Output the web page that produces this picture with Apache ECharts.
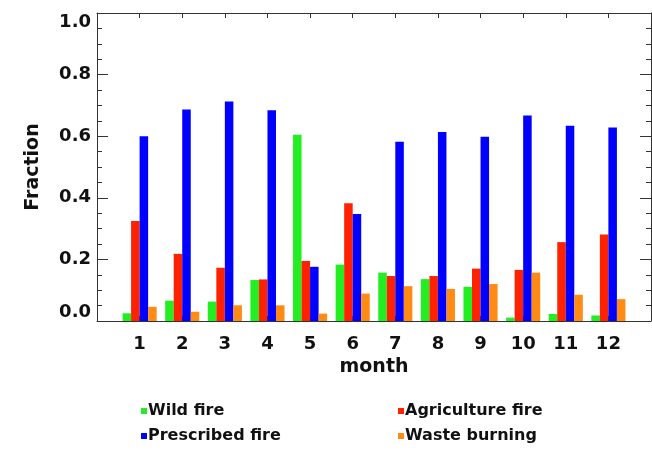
<!DOCTYPE html>
<html><head><meta charset="utf-8">
<script src="https://cdn.jsdelivr.net/npm/echarts@6/dist/echarts.min.js"></script>
<style>html,body{margin:0;padding:0;background:#fff}#c{width:652px;height:451px}</style>
</head><body><div id="c"></div>
<script>
var months = ['1','2','3','4','5','6','7','8','9','10','11','12'];
var wildFire = [0.025,0.066,0.063,0.133,0.605,0.183,0.157,0.136,0.111,0.011,0.023,0.018];
var agricultureFire = [0.325,0.218,0.173,0.135,0.195,0.382,0.146,0.146,0.170,0.166,0.256,0.281];
var prescribedFire = [0.600,0.687,0.713,0.684,0.176,0.347,0.582,0.614,0.598,0.667,0.634,0.628];
var wasteBurning = [0.046,0.030,0.051,0.051,0.024,0.089,0.113,0.104,0.120,0.157,0.085,0.071];
var yTicks = [0, 0.2, 0.4, 0.6, 0.8, 1.0];

var FONT = 'DejaVu Sans';
var axisCats = [''].concat(months).concat([' ']);
function pad(arr){ return ['-'].concat(arr).concat(['-']); }
var lineStyle = {color:'#333', width:1};
function isMonth(i){ return i > 0 && i < axisCats.length - 1; }

var chart = echarts.init(document.getElementById('c'), null, {renderer:'canvas'});
chart.setOption({
  animation:false,
  backgroundColor:'#fff',
  grid:{left:97, top:13, right:1, bottom:130, containLabel:false, outerBoundsMode:'none'},
  xAxis:[{
    type:'category', data:axisCats, boundaryGap:false, position:'bottom',
    axisLine:{show:true, onZero:false, lineStyle:lineStyle},
    axisTick:{show:true, inside:true, length:5, interval:function(i){return isMonth(i);}, lineStyle:lineStyle},
    axisLabel:{show:true, interval:function(i){return isMonth(i);}, margin:14, color:'#111', fontFamily:FONT, fontWeight:'bold', fontSize:18},
    splitLine:{show:false},
    name:'month', nameLocation:'middle', nameGap:35,
    nameTextStyle:{color:'#111', fontFamily:FONT, fontWeight:'bold', fontSize:19}
  },{
    type:'category', data:axisCats, boundaryGap:false, position:'top',
    axisLine:{show:true, onZero:false, lineStyle:lineStyle},
    axisTick:{show:true, inside:true, length:5, interval:function(i){return isMonth(i);}, lineStyle:lineStyle},
    axisLabel:{show:false}, splitLine:{show:false}
  }],
  yAxis:[{
    type:'value', min:yTicks[0], max:yTicks[yTicks.length-1], interval:0.2, position:'left',
    axisLine:{show:true, onZero:false, lineStyle:lineStyle},
    axisTick:{show:true, inside:true, length:11, lineStyle:lineStyle},
    minorTick:{show:true, splitNumber:4, length:5, lineStyle:{color:'#333'}},
    axisLabel:{show:true, margin:6, color:'#111', fontFamily:FONT, fontWeight:'bold', fontSize:18,
      formatter:function(v){return v.toFixed(1);},
      verticalAlignMinLabel:'bottom', verticalAlignMaxLabel:'top'},
    splitLine:{show:false},
    name:'Fraction', nameLocation:'middle', nameGap:54, nameRotate:90,
    nameTextStyle:{color:'#111', fontFamily:FONT, fontWeight:'bold', fontSize:19}
  },{
    type:'value', min:yTicks[0], max:yTicks[yTicks.length-1], interval:0.2, position:'right',
    axisLine:{show:true, onZero:false, lineStyle:lineStyle},
    axisTick:{show:true, inside:true, length:11, lineStyle:lineStyle},
    minorTick:{show:true, splitNumber:4, length:5, lineStyle:{color:'#333'}},
    axisLabel:{show:false}, splitLine:{show:false}
  }],
  legend:[{
    orient:'vertical', left:141, top:403, padding:[0,0,0,0],
    itemWidth:6, itemHeight:6, itemGap:9, icon:'rect',
    data:['Wild fire','Prescribed fire'],
    textStyle:{color:'#111', fontFamily:FONT, fontWeight:'bold', fontSize:16, lineHeight:16, padding:[0,0,0,-4]}
  },{
    orient:'vertical', left:398, top:403, padding:[0,0,0,0],
    itemWidth:6, itemHeight:6, itemGap:9, icon:'rect',
    data:['Agriculture fire','Waste burning'],
    textStyle:{color:'#111', fontFamily:FONT, fontWeight:'bold', fontSize:16, lineHeight:16, padding:[0,0,0,-4]}
  }],
  series:[
    {name:'Wild fire', type:'bar', data:pad(wildFire), barGap:'0%', barCategoryGap:'20%', itemStyle:{color:'#22EE22'}},
    {name:'Agriculture fire', type:'bar', data:pad(agricultureFire), barGap:'0%', barCategoryGap:'20%', itemStyle:{color:'#FF2200'}},
    {name:'Prescribed fire', type:'bar', data:pad(prescribedFire), barGap:'0%', barCategoryGap:'20%', itemStyle:{color:'#0000FF'}},
    {name:'Waste burning', type:'bar', data:pad(wasteBurning), barGap:'0%', barCategoryGap:'20%', itemStyle:{color:'#FF8A14'}}
  ]
});
</script>
</body></html>
